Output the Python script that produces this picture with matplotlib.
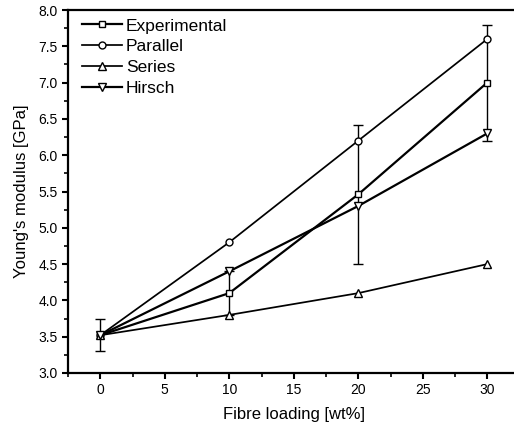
import matplotlib
matplotlib.use("Agg")
import matplotlib.pyplot as plt
from matplotlib.ticker import MultipleLocator, FormatStrFormatter

plt.rcParams['font.family'] = ['Liberation Sans', 'DejaVu Sans']

loading = [0, 10, 20, 30]
experimental = [3.52, 4.10, 5.46, 7.00]
experimental_err = [0.22, 0.30, 0.96, 0.80]
parallel = [3.52, 4.80, 6.20, 7.60]
series = [3.52, 3.80, 4.10, 4.50]
hirsch = [3.52, 4.40, 5.30, 6.30]

fig = plt.figure(figsize=(5.14, 4.32), dpi=100)
ax = fig.add_axes([68/514, 59/432, 451.5/514, 363/432])

ms = 5
ax.errorbar(loading, experimental, yerr=experimental_err, fmt='none',
            ecolor='black', elinewidth=1.0, capsize=3.5, capthick=1.0, zorder=2)
h_exp, = ax.plot(loading, experimental, color='black', lw=1.6, marker='s', ms=ms,
                 mfc='white', mec='black', mew=1.0, label='Experimental', zorder=3)
h_par, = ax.plot(loading, parallel, color='black', lw=1.25, marker='o', ms=ms,
                 mfc='white', mec='black', mew=1.0, label='Parallel', zorder=3)
h_ser, = ax.plot(loading, series, color='black', lw=1.25, marker='^', ms=ms+1,
                 mfc='white', mec='black', mew=1.0, label='Series', zorder=3)
h_hir, = ax.plot(loading, hirsch, color='black', lw=1.6, marker='v', ms=ms+1,
                 mfc='white', mec='black', mew=1.0, label='Hirsch', zorder=3)

ax.set_xlim(-2.5, 32.5)
ax.set_ylim(3.0, 8.0)
ax.xaxis.set_major_locator(MultipleLocator(5))
ax.xaxis.set_minor_locator(MultipleLocator(2.5))
ax.yaxis.set_major_locator(MultipleLocator(0.5))
ax.yaxis.set_minor_locator(MultipleLocator(0.25))
ax.yaxis.set_major_formatter(FormatStrFormatter('%.1f'))

ax.tick_params(which='major', direction='out', length=4.5, width=1.5,
               labelsize=10, top=False, right=False, pad=3)
ax.tick_params(which='minor', direction='out', length=3, width=1.2,
               top=False, right=False)
for sp in ax.spines.values():
    sp.set_linewidth(1.6)

ax.set_xlabel('Fibre loading [wt%]', fontsize=12, labelpad=7)
ax.set_ylabel("Young's modulus [GPa]", fontsize=12, labelpad=7)

leg = ax.legend(handles=[h_exp, h_par, h_ser, h_hir],
                loc='upper left', bbox_to_anchor=(0.032, 0.977), frameon=False,
                fontsize=12.5, labelspacing=0.33, handlelength=2.3,
                handletextpad=0.2, borderpad=0, borderaxespad=0)

fig.savefig('out.png', dpi=100)
